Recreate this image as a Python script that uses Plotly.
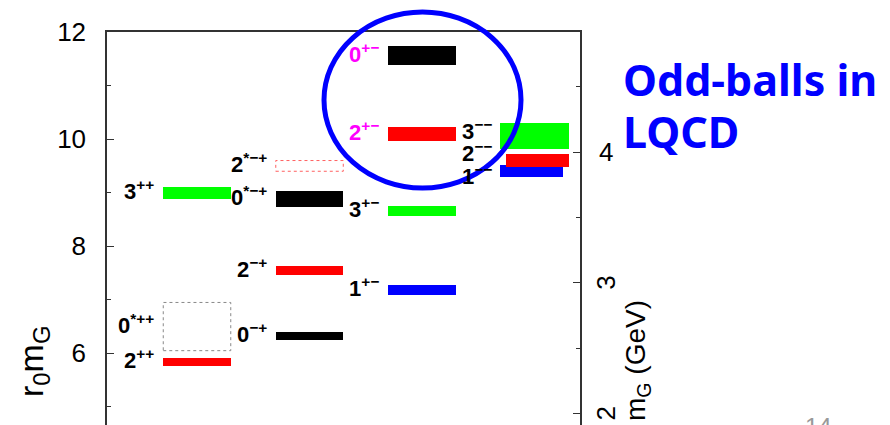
import plotly.graph_objects as go

# ---------------- data ----------------
states   = ["2++", "0*++", "3++", "0-+", "2-+", "0*-+", "2*-+",
            "1+-", "3+-", "2+-", "0+-", "3--", "1--", "2--"]
labels   = ["2<sup>++</sup>", "0<sup>*++</sup>", "3<sup>++</sup>",
            "0<sup>−+</sup>", "2<sup>−+</sup>", "0<sup>*−+</sup>", "2<sup>*−+</sup>",
            "1<sup>+−</sup>", "3<sup>+−</sup>", "2<sup>+−</sup>", "0<sup>+−</sup>",
            "3<sup>−−</sup>", "1<sup>−−</sup>", "2<sup>−−</sup>"]
spin     = [2, 0, 3, 0, 2, 0, 2, 1, 3, 2, 0, 3, 1, 2]
column   = [1, 1, 1, 2, 2, 2, 2, 3, 3, 3, 3, 4, 4, 4]
mass     = [5.84, 6.50, 8.99, 6.32, 7.545, 8.88, 9.50,
            7.18, 8.655, 10.095, 11.56, 10.055, 9.405, 9.60]   # r0*mG
err      = [0.075, 0.45, 0.11, 0.08, 0.09, 0.15, 0.10,
            0.09, 0.095, 0.135, 0.18, 0.24, 0.12, 0.115]
excited_unsure = [False, True, False, False, False, False, True,
                  False, False, False, False, False, False, False]
oddball  = [False, False, False, False, False, False, False,
            False, False, True, True, False, False, False]

left_ticks  = [6, 8, 10, 12]
left_minor  = [5, 7, 9, 11]
right_ticks = [2, 3, 4]
right_minor = [2.5, 3.5, 4.5]
r0_inv_GeV  = 0.41

# ---------------- styles ----------------
W, H = 890, 425
PL, PR, PT = 107, 580, 32
YMIN, YMAX = 4.662, 12.0
XMIN, XMAX = 0.2, 4.404
HALF = 0.30
spin_color = {0: "#000000", 1: "#0000ff", 2: "#ff0000", 3: "#00ff00"}
# special horizontal extents in the crowded 4th column (left, right offsets)
col4_extent = {"3--": (-0.307, 0.307), "1--": (-0.307, 0.253), "2--": (-0.253, 0.307)}
# label y placement for crowded column 4 (digit centres)
col4_label_y = {"3--": 10.11, "2--": 9.70, "1--": 9.27}

def px_to_paper_x(px):
    return (px - PL) / (PR - PL)

def px_to_paper_y(py):
    return (H - py) / (H - PT)

fig = go.Figure()
shapes = []
annotations = []

for st, lab, j, c, m, e, uns, odd in zip(states, labels, spin, column, mass, err,
                                         excited_unsure, oddball):
    lo, hi = m - e, m + e
    if c == 4:
        l_off, r_off = col4_extent[st]
    else:
        l_off, r_off = -HALF, HALF
    if uns:
        shapes.append(dict(type="rect", xref="x", yref="y",
                           x0=c + l_off, x1=c + r_off, y0=lo, y1=hi,
                           line=dict(color="#888888" if j == 0 else "#ff6060",
                                     width=1, dash="dot"),
                           fillcolor="rgba(0,0,0,0)", layer="above"))
    else:
        fig.add_trace(go.Bar(x=[c + (l_off + r_off) / 2], y=[hi - lo], base=[lo],
                             width=[r_off - l_off],
                             marker=dict(color=spin_color[j], line=dict(width=0)),
                             hoverinfo="skip", showlegend=False))
    ly = col4_label_y[st] if c == 4 else m
    annotations.append(dict(
        x=c - HALF, y=ly, xref="x", yref="y", xanchor="right", yanchor="middle",
        xshift=-7, yshift=3, showarrow=False,
        text="<b>%s</b>" % lab,
        font=dict(family="Liberation Sans", size=22,
                  color="#ff00ff" if odd else "#000000")))

# right tick labels (as drawn in the source, some rotated)
for v, ang in zip(right_ticks, [-90, -90, 0]):
    annotations.append(dict(x=px_to_paper_x(606), y=v, xref="paper", yref="y2",
                            text=str(v), showarrow=False, textangle=ang,
                            xanchor="center", yanchor="middle",
                            font=dict(family="Liberation Sans", size=26, color="#000")))

# axis titles
annotations.append(dict(x=px_to_paper_x(33), y=px_to_paper_y(362), xref="paper", yref="paper",
                        xanchor="center", yanchor="middle",
                        text="r<sub>0</sub>m<sub>G</sub>", textangle=-90, showarrow=False,
                        font=dict(family="Liberation Sans", size=34, color="#000")))
annotations.append(dict(x=px_to_paper_x(637), y=px_to_paper_y(361), xref="paper", yref="paper",
                        xanchor="center", yanchor="middle",
                        text="m<sub>G</sub> (GeV)", textangle=-90, showarrow=False,
                        font=dict(family="Liberation Sans", size=28, color="#000")))

# slide text
annotations.append(dict(x=px_to_paper_x(621), y=px_to_paper_y(79), xref="paper", yref="paper",
                        xanchor="left", yanchor="middle", text="<b>Odd-balls in</b>",
                        showarrow=False,
                        font=dict(family="Noto Sans", size=43, color="#0000ff")))
annotations.append(dict(x=px_to_paper_x(621), y=px_to_paper_y(131), xref="paper", yref="paper",
                        xanchor="left", yanchor="middle", text="<b>LQCD</b>",
                        showarrow=False,
                        font=dict(family="Noto Sans", size=43, color="#0000ff")))
annotations.append(dict(x=px_to_paper_x(818), y=px_to_paper_y(426), xref="paper", yref="paper",
                        xanchor="center", yanchor="middle", text="14", showarrow=False,
                        font=dict(family="Liberation Sans", size=24, color="#999999")))

# highlight ellipse
shapes.append(dict(type="circle", xref="paper", yref="paper",
                   x0=px_to_paper_x(324), x1=px_to_paper_x(521),
                   y0=px_to_paper_y(188), y1=px_to_paper_y(12),
                   line=dict(color="#0000ff", width=5), layer="above"))

# dummy trace to activate y2
fig.add_trace(go.Scatter(x=[None], y=[None], yaxis="y2", showlegend=False, hoverinfo="skip"))

fig.update_layout(
    width=W, height=H, autosize=False,
    margin=dict(l=PL, r=W - PR, t=PT, b=0, pad=0),
    paper_bgcolor="white", plot_bgcolor="white",
    barmode="overlay", bargap=0, showlegend=False,
    xaxis=dict(range=[XMIN, XMAX], side="top", showline=True, linecolor="#333",
               linewidth=1.5, ticks="", showticklabels=False, showgrid=False,
               zeroline=False, fixedrange=True),
    yaxis=dict(range=[YMIN, YMAX], showline=True, linecolor="#333", linewidth=1.5,
               ticks="inside", ticklen=7, tickwidth=1.3, tickcolor="#333",
               tickvals=left_ticks, ticktext=[str(t) for t in left_ticks],
               minor=dict(tickvals=left_minor, ticks="inside", ticklen=4,
                          tickwidth=1.3, tickcolor="#333"),
               tickfont=dict(family="Liberation Sans", size=26, color="#000"),
               ticklabelstandoff=14,
               showgrid=False, zeroline=False),
    yaxis2=dict(range=[YMIN * r0_inv_GeV, YMAX * r0_inv_GeV], overlaying="y", side="right",
                showline=True, linecolor="#333", linewidth=1.5,
                ticks="inside", ticklen=7, tickwidth=1.3, tickcolor="#333",
                tickvals=right_ticks, showticklabels=False,
                minor=dict(tickvals=right_minor, ticks="inside", ticklen=4,
                           tickwidth=1.3, tickcolor="#333"),
                showgrid=False, zeroline=False),
    shapes=shapes, annotations=annotations,
)

fig.write_html("out.html")
